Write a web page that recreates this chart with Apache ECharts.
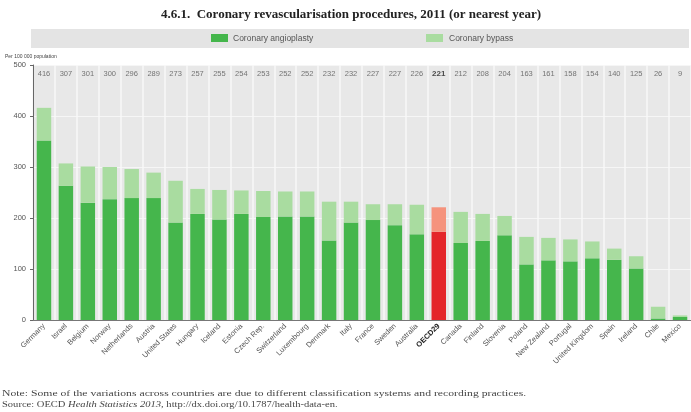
<!DOCTYPE html>
<html><head><meta charset="utf-8">
<script src="https://cdn.jsdelivr.net/npm/echarts@6/dist/echarts.min.js"></script>
<style>html,body{margin:0;padding:0;background:#fff;}#c{width:691px;height:412px;}</style>
</head><body><div id="c"></div>
<script>
const countries = ["Germany","Israel","Belgium","Norway","Netherlands","Austria","United States","Hungary","Iceland","Estonia","Czech Rep.","Switzerland","Luxembourg","Denmark","Italy","France","Sweden","Australia","OECD29","Canada","Finland","Slovenia","Poland","New Zealand","Portugal","United Kingdom","Spain","Ireland","Chile","Mexico"];
const angioplasty = [352,263,230,237,239,239,191,208,197,208,202,203,203,156,191,196,186,168,173,151,155,166,109,117,115,121,118,101,3,6];
const bypass = [64,44,71,63,57,50,82,49,58,46,51,49,49,76,41,31,41,58,48,61,53,38,54,44,43,33,22,24,23,3];
const totals = [416,307,301,300,296,289,273,257,255,254,253,252,252,232,232,227,227,226,221,212,208,204,163,161,158,154,140,125,26,9];
const yTicks = [0,100,200,300,400,500];

const GREEN = '#45b64c', LGREEN = '#a9dca0', RED = '#e4252a', LRED = '#f5937d';
const chart = echarts.init(document.getElementById('c'), null, {renderer:'canvas'});
const isOECD = c => c === 'OECD29';
chart.setOption({
  animation:false,
  graphic:[
    {type:'text', x:351, y:8, style:{text:'4.6.1.  Coronary revascularisation procedures, 2011 (or nearest year)', align:'center', font:'bold 13px "Liberation Serif", serif', fill:'#222'}},
    {type:'rect', shape:{x:31, y:29, width:658, height:19}, style:{fill:'#e4e4e4'}},
    {type:'rect', shape:{x:211, y:34, width:17, height:8}, style:{fill:GREEN}},
    {type:'text', x:233, y:34, style:{text:'Coronary angioplasty', font:'8.5px "Liberation Sans Narrow", "Liberation Sans", sans-serif', fill:'#555'}},
    {type:'rect', shape:{x:426, y:34, width:17, height:8}, style:{fill:LGREEN}},
    {type:'text', x:449, y:34, style:{text:'Coronary bypass', font:'8.5px "Liberation Sans Narrow", "Liberation Sans", sans-serif', fill:'#555'}},
    {type:'text', x:5, y:54, style:{text:'Per 100 000 population', font:'5px "Liberation Sans", sans-serif', fill:'#444'}},
    {type:'text', x:2, y:389, scaleX:1.3, style:{rich:{
        b:{font:'9px "Liberation Serif", serif', fill:'#444'}}, text:'{b|Note: Some of the variations across countries are due to different classification systems and recording practices.}'}},
    {type:'text', x:2, y:400, scaleX:1.17, style:{rich:{
        b:{font:'9px "Liberation Serif", serif', fill:'#444'},
        i:{font:'italic 9px "Liberation Serif", serif', fill:'#444'}},
        text:'{b|Source: OECD }{i|Health Statistics 2013}{b|, http://dx.doi.org/10.1787/health-data-en.}'}}
  ],
  grid:{left:33, top:65, width:663, height:255, show:true, backgroundColor:'#e8e8e8', borderWidth:0},
  xAxis:{type:'category', data:countries,
    axisLine:{show:true, lineStyle:{color:'#777', width:1}},
    axisTick:{show:false},
    splitLine:{show:true, interval:0, lineStyle:{color:'#f8f8f8', width:1.5}},
    axisLabel:{interval:0, rotate:45, fontSize:7.5, color:'#555', margin:5, fontFamily:'"Liberation Sans", sans-serif',
      formatter: v => isOECD(v) ? '{o|' + v + '}' : v,
      rich:{o:{fontWeight:'bold', color:'#222', fontSize:7.5}}}
  },
  yAxis:{type:'value', min:0, max:500, interval:100,
    axisLine:{show:true, lineStyle:{color:'#666'}},
    axisTick:{show:true, length:3, lineStyle:{color:'#666'}},
    splitLine:{show:true, lineStyle:{color:'#f6f6f6', width:1}},
    axisLabel:{fontSize:7.5, color:'#555', margin:7, fontFamily:'"Liberation Sans", sans-serif'}
  },
  series:[
    {name:'Coronary angioplasty', type:'bar', stack:'t', barWidth:'66%',
      data: angioplasty.map((v,i)=>({value:v, itemStyle:{color: isOECD(countries[i]) ? RED : GREEN}}))},
    {name:'Coronary bypass', type:'bar', stack:'t', barWidth:'66%',
      data: bypass.map((v,i)=>({value:v, itemStyle:{color: isOECD(countries[i]) ? LRED : LGREEN}}))},
    {type:'scatter', symbolSize:0, silent:true,
      data: totals.map((t,i)=>[countries[i], 482]),
      label:{show:true, position:'inside', fontSize:7.5, fontFamily:'"Liberation Sans", sans-serif',
        formatter: p => isOECD(countries[p.dataIndex]) ? '{o|' + totals[p.dataIndex] + '}' : String(totals[p.dataIndex]),
        color:'#555', rich:{o:{fontWeight:'bold', color:'#222', fontSize:8}}}}
  ]
});
</script></body></html>
